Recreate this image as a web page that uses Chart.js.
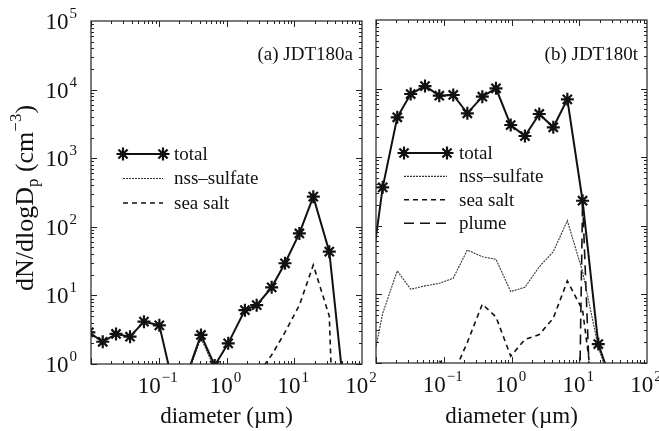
<!DOCTYPE html>
<html>
<head>
<meta charset="utf-8">
<script src="https://cdn.jsdelivr.net/npm/chart.js@4.4.1/dist/chart.umd.min.js"></script>
<style>
  body { margin: 0; background: #fff; }
  #wrap { position: relative; width: 659px; height: 431px; }
  canvas { position: absolute; left: 0; top: 0; }
</style>
</head>
<body>
<div id="wrap">
  <canvas id="chartA" width="659" height="431"></canvas>
  <canvas id="chartB" width="659" height="431"></canvas>
</div>
<script>
// (a) JDT180a - diameters in um, values in cm^-3 (values < 1 fall below the axis)
const diamA  = [0.0093, 0.0149, 0.0234, 0.0377, 0.0605, 0.102, 0.162, 0.257, 0.42, 0.67, 1.06, 1.87, 2.79, 4.64, 7.3, 11.9, 19.1, 32.9, 52.5];
const totalA = [2.9, 2.11, 2.74, 2.5, 4.14, 3.66, 0.51, 0.67, 2.65, 0.95, 2.0, 6.1, 7.2, 13.1, 29.4, 80, 275, 43.4, 0.55];
const nssA   = [0.3, 0.3, 0.3, 0.3, 0.3, 0.3, 0.3, 0.62, 2.4, 0.85, 0.3, 0.3, 0.3, 0.3, 0.3, 0.3, 0.3, 0.3, 0.3];
const seaA   = [0.1, 0.1, 0.1, 0.1, 0.1, 0.1, 0.1, 0.1, 0.1, 0.1, 0.1, 0.3, 0.68, 1.35, 2.9, 7.2, 27.7, 5.0, 0.00001];

// (b) JDT180t
const diamB  = [0.0079, 0.01256, 0.0206, 0.0325, 0.0529, 0.0859, 0.138, 0.223, 0.371, 0.59, 0.973, 1.58, 2.57, 4.14, 6.67, 11.2, 19.1, 31.6];
const totalB = [12.6, 364, 3817, 8340, 10900, 7880, 8070, 4365, 7620, 10100, 2946, 2037, 4265, 2729, 6980, 232, 1.89, 0.45];
const nssB   = [0.55, 5.3, 22, 11.9, 13.3, 14.5, 17.2, 44.4, 35.4, 32.5, 11, 12.7, 25.3, 41.9, 119, 21.4, 1.7, 0.4];
const seaB   = [0.3, 0.3, 0.3, 0.3, 0.7, 1.08, 0.68, 2.0, 7.2, 4.7, 1.26, 2.2, 2.6, 4.5, 15.7, 5.9, 0.1, 0.01];
const plumeB = [1e-12, 1e-12, 1e-12, 1e-12, 1e-12, 1e-12, 1e-12, 1e-12, 1e-12, 1e-12, 1e-12, 1e-12, 1e-12, 1e-12, 1e-12, 230, 0.0003, 1e-6];

const xLabelExps = [-1, 0, 1, 2];
const yLabelExps = [0, 1, 2, 3, 4, 5];

const serif = '"Liberation Serif", "DejaVu Serif", serif';

function pairs(xs, ys) {
  return xs.map((x, i) => ({ x: x, y: ys[i] }));
}

function totalSet(xs, ys) {
  return {
    label: 'total', data: pairs(xs, ys),
    borderColor: '#111', borderWidth: 2,
    pointStyle: 'star', pointRadius: 6.5, pointBorderWidth: 2.2,
    pointBorderColor: '#111', pointBackgroundColor: '#111'
  };
}
function nssSet(xs, ys) {
  return { label: 'nss\u2013sulfate', data: pairs(xs, ys), borderColor: '#333', borderWidth: 1.1, borderDash: [2, 1], pointRadius: 0 };
}
function seaSet(xs, ys) {
  return { label: 'sea salt', data: pairs(xs, ys), borderColor: '#111', borderWidth: 1.6, borderDash: [5, 4], pointRadius: 0 };
}
function plumeSet(xs, ys) {
  return { label: 'plume', data: pairs(xs, ys), borderColor: '#111', borderWidth: 1.6, borderDash: [10, 6], pointRadius: 0 };
}

// "10" with a raised exponent
function drawPow(ctx, exp, x, y, align) {
  const sup = String(exp).replace('-', '\u2212');
  ctx.font = '23px ' + serif;
  const w1 = ctx.measureText('10').width;
  ctx.font = '15px ' + serif;
  const w2 = ctx.measureText(sup).width + 1;
  const left = align === 'right' ? x - w1 - w2 : x - (w1 + w2) / 2;
  ctx.textAlign = 'left';
  ctx.textBaseline = 'alphabetic';
  ctx.font = '23px ' + serif;
  ctx.fillText('10', left, y);
  ctx.font = '15px ' + serif;
  ctx.fillText(sup, left + w1 + 1, y - 11);
}

function drawStar(ctx, x, y, r) {
  ctx.beginPath();
  for (let i = 0; i < 4; i++) {
    const a = i * Math.PI / 4;
    ctx.moveTo(x - r * Math.cos(a), y - r * Math.sin(a));
    ctx.lineTo(x + r * Math.cos(a), y + r * Math.sin(a));
  }
  ctx.stroke();
}

const framePlugin = {
  id: 'frame',
  afterDatasetsDraw(chart, args, o) {
    const ctx = chart.ctx, a = chart.chartArea;
    const xs = chart.scales.x, ys = chart.scales.y;
    ctx.save();
    ctx.strokeStyle = '#222';
    ctx.fillStyle = '#111';
    ctx.lineWidth = 1.2;
    ctx.setLineDash([]);
    ctx.strokeRect(a.left, a.top, a.right - a.left, a.bottom - a.top);

    // inward ticks on all four sides
    ctx.lineWidth = 1;
    ctx.beginPath();
    for (let e = -2; e <= 1; e++) {
      for (let k = 1; k < 10; k++) {
        const px = Math.round(xs.getPixelForValue(k * Math.pow(10, e))) + 0.5;
        const len = k === 1 ? 6 : 3;
        ctx.moveTo(px, a.bottom); ctx.lineTo(px, a.bottom - len);
        ctx.moveTo(px, a.top); ctx.lineTo(px, a.top + len);
      }
    }
    for (let e = 0; e <= 4; e++) {
      for (let k = 1; k < 10; k++) {
        const py = Math.round(ys.getPixelForValue(k * Math.pow(10, e))) + 0.5;
        const len = k === 1 ? 6 : 3;
        ctx.moveTo(a.left, py); ctx.lineTo(a.left + len, py);
        ctx.moveTo(a.right, py); ctx.lineTo(a.right - len, py);
      }
    }
    ctx.stroke();

    // tick labels
    xLabelExps.forEach(e => drawPow(ctx, e, xs.getPixelForValue(Math.pow(10, e)) - 1, a.bottom + 29, 'center'));
    if (o.yLabels) {
      yLabelExps.forEach(e => drawPow(ctx, e, a.left - 14, ys.getPixelForValue(Math.pow(10, e)) + 8, 'right'));
    }

    // x title
    ctx.font = '23px ' + serif;
    ctx.textAlign = 'center';
    ctx.textBaseline = 'alphabetic';
    ctx.fillText('diameter (\u00b5m)', (a.left + a.right) / 2, 423);

    // y title
    if (o.yTitle) {
      ctx.save();
      ctx.translate(25, 198);
      ctx.rotate(-Math.PI / 2);
      const parts = [
        ['dN/dlogD', 26, 0], ['p', 17, 5], [' (cm', 26, 0], ['\u22123', 17, -12], [')', 26, 0]
      ];
      let w = 0;
      parts.forEach(p => { ctx.font = p[1] + 'px ' + serif; w += ctx.measureText(p[0]).width; });
      let cx = -w / 2;
      ctx.textAlign = 'left';
      parts.forEach(p => {
        ctx.font = p[1] + 'px ' + serif;
        ctx.fillText(p[0], cx, 8 + p[2]);
        cx += ctx.measureText(p[0]).width;
      });
      ctx.restore();
    }

    // panel title
    ctx.font = '19px ' + serif;
    ctx.textAlign = 'right';
    ctx.fillText(o.title, a.right - 9, 60);

    // legend
    const L = o.legend;
    chart.data.datasets.forEach((ds, i) => {
      const y = L.y + i * L.dy;
      ctx.strokeStyle = ds.borderColor;
      ctx.lineWidth = ds.borderWidth;
      ctx.setLineDash(ds.borderDash || []);
      ctx.beginPath();
      ctx.moveTo(L.x0, y); ctx.lineTo(L.x1, y);
      ctx.stroke();
      ctx.setLineDash([]);
      if (ds.pointRadius > 0) {
        ctx.lineWidth = ds.pointBorderWidth;
        drawStar(ctx, L.x0, y, ds.pointRadius);
        drawStar(ctx, L.x1, y, ds.pointRadius);
      }
      ctx.fillStyle = '#111';
      ctx.font = '19px ' + serif;
      ctx.textAlign = 'left';
      ctx.textBaseline = 'middle';
      ctx.fillText(ds.label, L.tx, y + 1);
    });
    ctx.restore();
  }
};

function makeChart(id, datasets, padding, frame) {
  return new Chart(document.getElementById(id), {
    type: 'line',
    data: { datasets: datasets },
    options: {
      responsive: false,
      animation: false,
      layout: { padding: padding },
      plugins: { legend: { display: false }, tooltip: { enabled: false }, frame: frame },
      scales: {
        x: { type: 'logarithmic', min: 0.01, max: 100, display: false },
        y: { type: 'logarithmic', min: 1, max: 1e5, display: false }
      }
    },
    plugins: [framePlugin]
  });
}

makeChart('chartA',
  [totalSet(diamA, totalA), nssSet(diamA, nssA), seaSet(diamA, seaA)],
  { left: 91, right: 297, top: 21, bottom: 67 },
  { title: '(a) JDT180a', yLabels: true, yTitle: true,
    legend: { x0: 123, x1: 163, tx: 174, y: 154, dy: 24.5 } });

makeChart('chartB',
  [totalSet(diamB, totalB), nssSet(diamB, nssB), seaSet(diamB, seaB), plumeSet(diamB, plumeB)],
  { left: 376, right: 12, top: 20, bottom: 68 },
  { title: '(b) JDT180t', yLabels: false, yTitle: false,
    legend: { x0: 404, x1: 447, tx: 459, y: 153, dy: 23.4 } });
</script>
</body>
</html>
